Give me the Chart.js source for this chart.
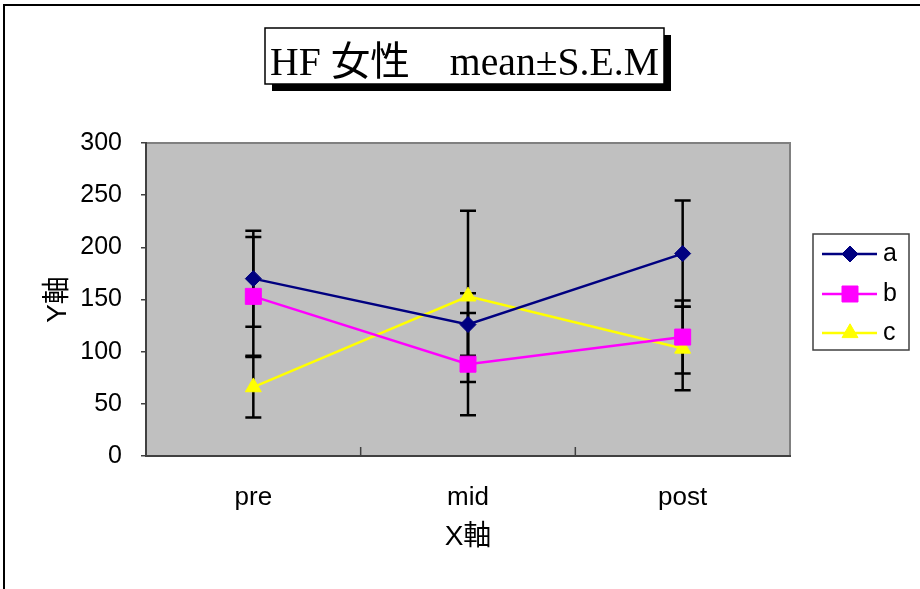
<!DOCTYPE html>
<html>
<head>
<meta charset="utf-8">
<script src="https://cdn.jsdelivr.net/npm/chart.js@4.4.0/dist/chart.umd.min.js"></script>
<style>
    html, body { margin: 0; padding: 0; background: #fff; }
</style>
</head>
<body>
<canvas id="grafico" width="920" height="589"></canvas>
<script>
// Dados
const categorias = ['pre', 'mid', 'post'];
const nomesSeries = ['a', 'b', 'c'];
const mediaA = [170, 126, 194];
const semA = [46, 30, 51];
const mediaB = [153, 88, 114];
const semB = [57, 49, 35];
const mediaC = [66, 153, 103];
const semC = [29, 82, 40];
const ticksY = [0, 50, 100, 150, 200, 250, 300];
const titulo = 'HF 女性\u3000mean±S.E.M';
const tituloX = 'X軸';
const tituloY = 'Y軸';

const fonteSans = "'Liberation Sans', 'Noto Sans CJK JP', sans-serif";
const fonteSerif = "'Liberation Serif', 'Noto Sans CJK JP', serif";

// Moldura externa, fundo da área e título
const pluginFundo = {
    id: 'fundo',
    beforeDraw(chart) {
        const ctx = chart.ctx;
        const a = chart.chartArea;
        ctx.save();
        // borda externa
        ctx.strokeStyle = '#000';
        ctx.lineWidth = 2;
        ctx.strokeRect(4, 5, 1000, 1000);
        // fundo cinza
        ctx.fillStyle = '#c0c0c0';
        ctx.fillRect(a.left, a.top, a.right - a.left, a.bottom - a.top);
        ctx.strokeStyle = '#808080';
        ctx.lineWidth = 2;
        ctx.beginPath();
        ctx.moveTo(a.left, a.top);
        ctx.lineTo(a.right, a.top);
        ctx.lineTo(a.right, a.bottom);
        ctx.stroke();

        // caixa do título com sombra
        ctx.fillStyle = '#000';
        ctx.fillRect(272, 35, 399, 56);
        ctx.fillStyle = '#fff';
        ctx.fillRect(265, 28, 399, 56);
        ctx.strokeStyle = '#000';
        ctx.lineWidth = 1.5;
        ctx.strokeRect(265, 28, 399, 56);
        ctx.fillStyle = '#000';
        ctx.font = '40px ' + fonteSerif;
        ctx.textAlign = 'center';
        ctx.textBaseline = 'alphabetic';
        ctx.fillText(titulo, 464.5, 75, 389);
        ctx.restore();
    }
};

// Barras de erro (média ± SEM) e marcas internas do eixo X
const pluginErros = {
    id: 'erros',
    beforeDatasetsDraw(chart) {
        const ctx = chart.ctx;
        const x = chart.scales.x;
        const y = chart.scales.y;
        ctx.save();
        ctx.strokeStyle = '#000';
        ctx.lineWidth = 2.5;
        chart.data.datasets.forEach(ds => {
            ds.data.forEach((v, i) => {
                const px = x.getPixelForValue(i);
                const top = y.getPixelForValue(v + ds.erros[i]);
                const bot = y.getPixelForValue(v - ds.erros[i]);
                ctx.beginPath();
                ctx.moveTo(px, top);
                ctx.lineTo(px, bot);
                ctx.moveTo(px - 8, top);
                ctx.lineTo(px + 8, top);
                ctx.moveTo(px - 8, bot);
                ctx.lineTo(px + 8, bot);
                ctx.stroke();
            });
        });
        // marcas do eixo X entre categorias
        ctx.strokeStyle = '#404040';
        ctx.lineWidth = 1.5;
        for (let i = 0; i < categorias.length - 1; i++) {
            const bx = (x.getPixelForValue(i) + x.getPixelForValue(i + 1)) / 2;
            ctx.beginPath();
            ctx.moveTo(bx, chart.chartArea.bottom);
            ctx.lineTo(bx, chart.chartArea.bottom - 9);
            ctx.stroke();
        }
        ctx.restore();
    }
};

// Legenda desenhada à mão
const pluginLegenda = {
    id: 'legendaCustom',
    afterDraw(chart) {
        const ctx = chart.ctx;
        ctx.save();
        ctx.fillStyle = '#fff';
        ctx.fillRect(813, 234, 96, 116);
        ctx.strokeStyle = '#404040';
        ctx.lineWidth = 1.5;
        ctx.strokeRect(813, 234, 96, 116);
        const linhasY = [254, 294, 333];
        chart.data.datasets.forEach((ds, i) => {
            const ly = linhasY[i];
            ctx.strokeStyle = ds.borderColor;
            ctx.lineWidth = 2.5;
            ctx.beginPath();
            ctx.moveTo(822, ly);
            ctx.lineTo(877, ly);
            ctx.stroke();
            ctx.fillStyle = ds.pointBackgroundColor;
            ctx.strokeStyle = ds.borderColor;
            ctx.lineWidth = 1;
            Chart.helpers.drawPoint(ctx, {
                pointStyle: ds.pointStyle,
                radius: ds.pointRadius,
                rotation: 0,
                borderWidth: 1
            }, 850, ly);
            ctx.fillStyle = '#000';
            ctx.font = '25px ' + fonteSans;
            ctx.textAlign = 'left';
            ctx.textBaseline = 'middle';
            ctx.fillText(ds.label, 883, ly);
        });
        ctx.restore();
    }
};

function serie(nome, dados, erros, cor, estilo, raio) {
    return {
        label: nome,
        data: dados,
        erros: erros,
        borderColor: cor,
        backgroundColor: cor,
        pointBackgroundColor: cor,
        pointBorderColor: cor,
        pointStyle: estilo,
        pointRadius: raio,
        pointHoverRadius: raio,
        pointBorderWidth: 1,
        borderWidth: 2.5,
        tension: 0,
        fill: false
    };
}

const grafico = new Chart(document.getElementById('grafico'), {
    type: 'line',
    data: {
        labels: categorias,
        datasets: [
            serie(nomesSeries[0], mediaA, semA, '#000080', 'rectRot', 8),
            serie(nomesSeries[1], mediaB, semB, '#ff00ff', 'rect', 11.3),
            serie(nomesSeries[2], mediaC, semC, '#ffff00', 'triangle', 9.2)
        ]
    },
    options: {
        responsive: false,
        animation: false,
        devicePixelRatio: 1,
        layout: { padding: { top: 143, right: 130, bottom: 0, left: 0 } },
        plugins: {
            legend: { display: false },
            title: { display: false },
            tooltip: { enabled: false }
        },
        scales: {
            x: {
                offset: true,
                grid: { display: false },
                border: { display: true, color: '#404040', width: 2 },
                ticks: {
                    color: '#000',
                    font: { family: fonteSans, size: 26 },
                    padding: 18
                },
                title: {
                    display: true,
                    text: tituloX,
                    color: '#000',
                    font: { family: fonteSans, size: 28 },
                    padding: { top: 0, bottom: 35 }
                },
                afterFit(scale) { scale.height = 133; }
            },
            y: {
                min: 0,
                max: 300,
                afterBuildTicks(scale) {
                    scale.ticks = ticksY.map(v => ({ value: v }));
                },
                grid: {
                    drawOnChartArea: false,
                    drawTicks: true,
                    tickLength: 5,
                    color: '#404040',
                    lineWidth: 1.5
                },
                border: { display: true, color: '#404040', width: 2 },
                ticks: {
                    color: '#000',
                    font: { family: fonteSans, size: 25 },
                    padding: 19
                },
                title: {
                    display: true,
                    text: tituloY,
                    color: '#000',
                    font: { family: fonteSans, size: 28 },
                    padding: { top: 41, bottom: 0 }
                },
                afterFit(scale) { scale.width = 146; }
            }
        }
    },
    plugins: [pluginFundo, pluginErros, pluginLegenda]
});
</script>
</body>
</html>
